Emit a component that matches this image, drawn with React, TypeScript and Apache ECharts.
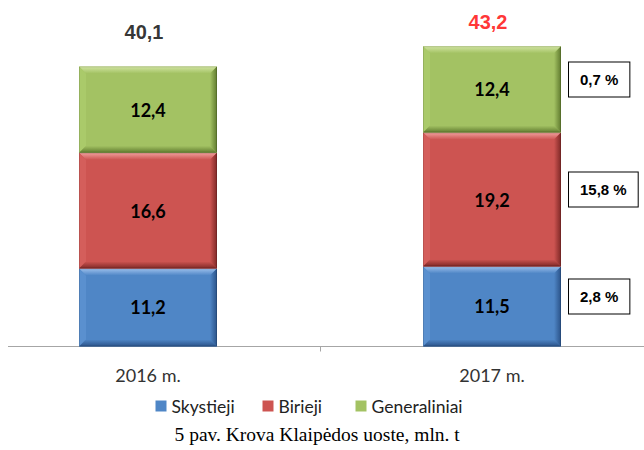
import React, { useEffect, useRef } from "react";
import * as echarts from "echarts";

const categories = ["2016 m.", "2017 m."];
const seriesNames = ["Skystieji", "Birieji", "Generaliniai"];
const skystieji = [11.2, 11.5];
const birieji = [16.6, 19.2];
const generaliniai = [12.4, 12.4];
const totals = [40.1, 43.2];
const changes2017 = [2.8, 15.8, 0.7];

const seriesValues = [skystieji, birieji, generaliniai];

const palette = [
  { base: "#4F86C6", light: "#9DC0EC", left: "#5A90CF", dark: "#2A5288" },
  { base: "#CD5451", light: "#F0A09D", left: "#D45E5B", dark: "#7E2826" },
  { base: "#A3C263", light: "#D2E5A3", left: "#AACA6A", dark: "#5F7A2E" },
];

const totalColors = ["#000000", "#FF0000"];
const totalDistances = [25, 14];
const legendLefts = [155, 262, 355];

const fmt = (v: number) => v.toFixed(1).replace(".", ",");

const BAR_W = 138;
const BEVEL = 7;
const SHIFT = 24.5; // chart canvas starts this far left of the page

export default function App() {
  const ref = useRef<HTMLDivElement>(null);
  useEffect(() => {
    if (!ref.current) return;
    const chart = echarts.init(ref.current, undefined, { renderer: "svg" });

    const makeRender = (si: number) => (params: any, api: any) => {
      const ci = api.value(0);
      const lo = api.value(1);
      const hi = api.value(2);
      const pLo = api.coord([ci, lo]);
      const pHi = api.coord([ci, hi]);
      const w = BAR_W;
      const b = BEVEL;
      const x = pLo[0] - w / 2;
      const y = pHi[1];
      const h = pLo[1] - pHi[1];
      const c = palette[si];
      const val = seriesValues[si][params.dataIndex];
      const children: any[] = [
        { type: "rect", shape: { x, y, width: w, height: h }, style: { fill: c.base } },
        {
          type: "polygon",
          shape: { points: [[x, y], [x + w, y], [x + w - b, y + b], [x + b, y + b]] },
          style: {
            fill: new echarts.graphic.LinearGradient(0, 0, 0, 1, [
              { offset: 0, color: c.light },
              { offset: 1, color: c.base },
            ]),
          },
        },
        {
          type: "polygon",
          shape: { points: [[x, y], [x + b, y + b], [x + b, y + h - b], [x, y + h]] },
          style: { fill: c.left },
        },
        {
          type: "polygon",
          shape: { points: [[x + w, y], [x + w, y + h], [x + w - b, y + h - b], [x + w - b, y + b]] },
          style: {
            fill: new echarts.graphic.LinearGradient(0, 0, 1, 0, [
              { offset: 0, color: c.base },
              { offset: 1, color: c.dark },
            ]),
          },
        },
        {
          type: "polygon",
          shape: { points: [[x, y + h], [x + w, y + h], [x + w - b, y + h - b], [x + b, y + h - b]] },
          style: {
            fill: new echarts.graphic.LinearGradient(0, 0, 0, 1, [
              { offset: 0, color: c.base },
              { offset: 1, color: c.dark },
            ]),
          },
        },
        {
          type: "rect",
          shape: { x: x + 0.5, y: y + 0.5, width: w - 1, height: h - 1 },
          style: { fill: "none", stroke: "rgba(0,0,0,0.12)", lineWidth: 1 },
        },
        {
          type: "text",
          x: x + w / 2,
          y: y + h / 2,
          style: {
            text: fmt(val),
            fill: "#000",
            font: "bold 18px Lato",
            align: "center",
            verticalAlign: "middle",
          },
        },
      ];
      if (params.dataIndex === 1) {
        children.push({
          type: "text",
          x: x + w + 8,
          y: y + h / 2 - 10,
          style: {
            text: fmt(changes2017[si]) + " %",
            fill: "#000",
            font: "bold 15px 'Liberation Sans'",
            align: "left",
            verticalAlign: "middle",
            backgroundColor: "#fff",
            borderColor: "#000",
            borderWidth: 1,
            padding: [9, 11],
            lineHeight: 16,
          },
        });
      }
      return { type: "group", children };
    };

    const customSeries = seriesNames.map((name, si) => ({
      name,
      type: "custom",
      renderItem: makeRender(si),
      itemStyle: { color: palette[si].base },
      encode: { x: 0, y: [1, 2] },
      data: categories.map((_, ci) => {
        let lo = 0;
        for (let k = 0; k < si; k++) lo += seriesValues[k][ci];
        return [ci, lo, lo + seriesValues[si][ci]];
      }),
      z: 2,
    }));

    chart.setOption({
      animation: false,
      grid: { left: 0, right: 0, top: 33, bottom: 103.5 },
      xAxis: {
        type: "category",
        data: categories,
        axisLine: { show: true, lineStyle: { color: "#A6A6A6", width: 1 } },
        axisTick: { show: true, length: 5, lineStyle: { color: "#A6A6A6" } },
        axisLabel: { fontFamily: "Lato", fontSize: 18, color: "#333", margin: 19 },
      },
      yAxis: { type: "value", min: 0, max: 45, show: false, splitLine: { show: false } },
      legend: seriesNames.map((name, i) => ({
        data: [name],
        left: legendLefts[i] - 5 + SHIFT,
        top: 392,
        icon: "rect",
        itemWidth: 11,
        itemHeight: 11,
        textStyle: { fontFamily: "Lato", fontSize: 17.5, color: "#222" },
      })),
      graphic: [
        {
          type: "text",
          left: 174 + SHIFT,
          top: 424,
          style: {
            text: "5 pav. Krova Klaipėdos uoste, mln. t",
            font: "19.5px 'Liberation Serif'",
            fill: "#000",
          },
        },
      ],
      series: [
        ...customSeries,
        {
          name: "Iš viso",
          type: "scatter",
          symbolSize: 0,
          z: 3,
          data: totals.map((t, i) => ({
            value: [i, t],
            label: {
              show: true,
              position: "top",
              distance: totalDistances[i],
              offset: [-4, 0],
              color: totalColors[i],
              formatter: fmt(t),
              fontFamily: "Liberation Sans",
              fontWeight: "bold",
              fontSize: 20,
            },
          })),
          tooltip: { show: false },
        },
      ],
    });
    return () => chart.dispose();
  }, []);
  return (
    <div
      style={{
        position: "absolute",
        left: 8,
        top: 0,
        width: 636,
        height: 450,
        overflow: "hidden",
      }}
    >
      <div
        ref={ref}
        style={{ position: "absolute", left: -(SHIFT + 8), top: 0, width: 688, height: 450 }}
      />
    </div>
  );
}
